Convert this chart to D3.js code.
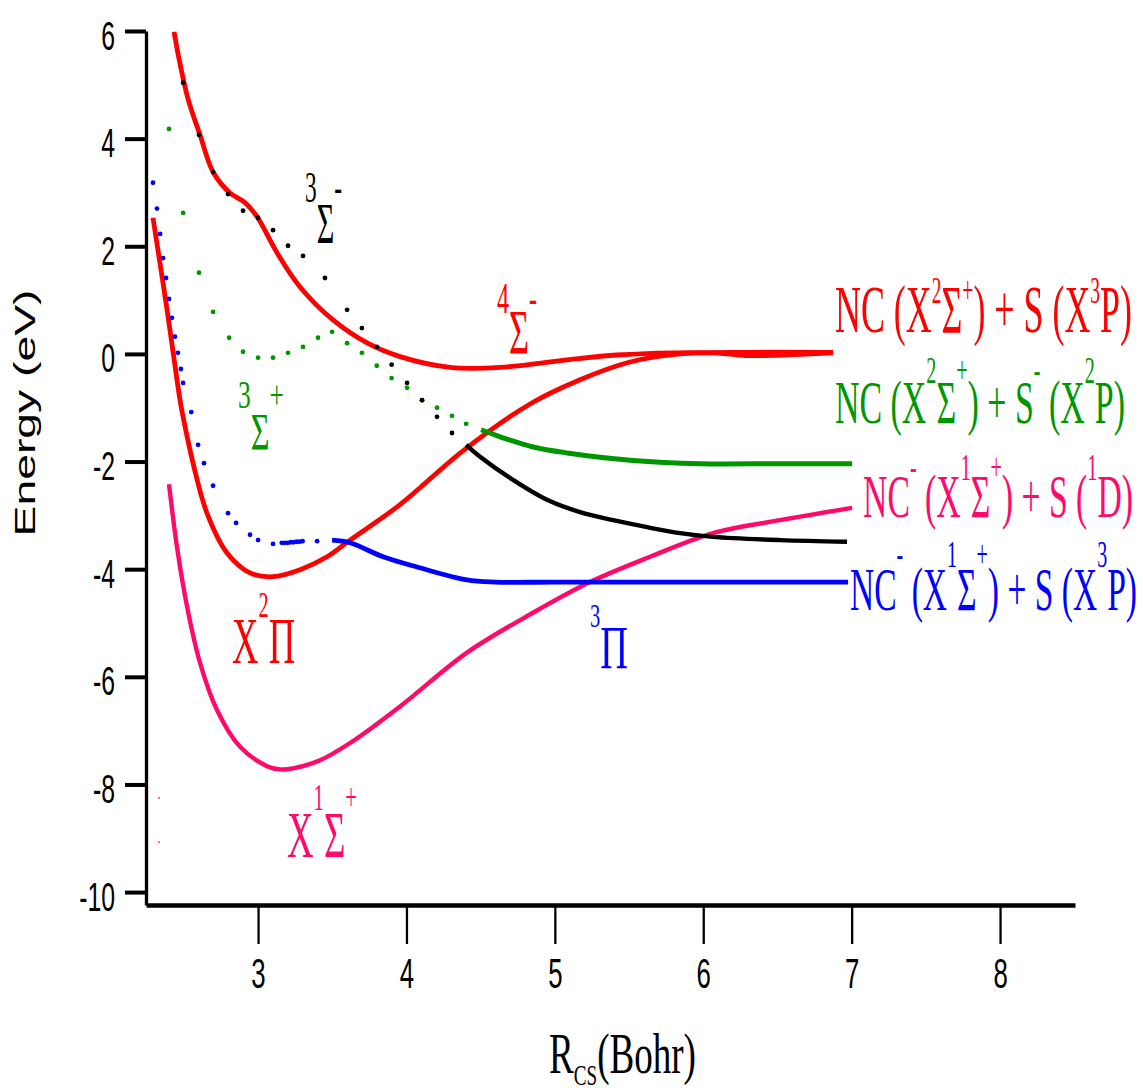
<!DOCTYPE html>
<html>
<head>
<meta charset="utf-8">
<script src="https://cdn.jsdelivr.net/npm/d3@7"></script>
<style>
  body { margin: 0; background: #fff; }
</style>
</head>
<body>
<div id="chart"></div>
<script>
// --- Data: [R (bohr), E (eV)] ---
const xTicks = [3, 4, 5, 6, 7, 8];
const yTicks = [-10, -8, -6, -4, -2, 0, 2, 4, 6];

const red4Sigma = [[2.434,5.985],[2.47,5.45],[2.53,4.72],[2.609,4.07],[2.697,3.38],[2.811,2.99],[2.912,2.81],[2.993,2.55],[3.128,1.88],[3.283,1.245],[3.505,0.632],[3.735,0.204],[3.957,-0.05],[4.294,-0.25],[4.631,-0.25],[5.082,-0.11],[5.419,-0.02],[6.066,0.02],[6.295,-0.03],[6.875,0.02]];
const redX2Pi = [[2.292,2.53],[2.387,0.82],[2.474,-0.855],[2.495,-1.17],[2.562,-2.03],[2.656,-2.96],[2.791,-3.70],[2.946,-4.07],[3.101,-4.14],[3.283,-4.01],[3.465,-3.77],[3.62,-3.46],[3.957,-2.80],[4.381,-1.80],[4.833,-0.93],[5.17,-0.48],[5.507,-0.15],[5.844,0.0],[6.3,0.03],[6.875,0.03]];
const pinkX1Sigma = [[2.40,-2.42],[2.454,-3.59],[2.522,-4.70],[2.609,-5.74],[2.724,-6.62],[2.879,-7.30],[3.061,-7.66],[3.15,-7.72],[3.236,-7.70],[3.418,-7.55],[3.62,-7.23],[3.957,-6.55],[4.408,-5.55],[4.853,-4.81],[5.237,-4.24],[5.642,-3.77],[6.066,-3.33],[6.517,-3.09],[7.003,-2.86]];
const pinkStray = [[2.333,-8.25],[2.333,-9.07]];
const blueDots = [[2.292,3.18],[2.319,2.70],[2.34,2.23],[2.36,1.78],[2.38,1.41],[2.40,1.02],[2.42,0.67],[2.44,0.32],[2.46,0.02],[2.48,-0.28],[2.495,-0.54],[2.55,-1.08],[2.596,-1.69],[2.636,-2.03],[2.697,-2.45],[2.798,-2.96],[2.852,-3.14],[2.946,-3.36],[3.0,-3.46],[3.101,-3.53],[3.16,-3.51],[3.18,-3.51],[3.20,-3.51],[3.22,-3.50],[3.24,-3.50],[3.26,-3.49],[3.28,-3.49],[3.30,-3.48],[3.398,-3.48]];
const blueLine = [[3.499,-3.46],[3.62,-3.51],[3.842,-3.77],[4.071,-3.96],[4.408,-4.20],[4.6,-4.24],[5.0,-4.24],[6.0,-4.24],[6.976,-4.24]];
const greenDots = [[2.40,4.18],[2.495,2.62],[2.602,1.51],[2.697,0.78],[2.805,0.30],[2.899,0.04],[3.0,-0.07],[3.101,-0.07],[3.202,0.02],[3.303,0.13],[3.404,0.30],[3.499,0.41],[3.60,0.20],[3.70,0.02],[3.80,-0.22],[3.90,-0.45],[4.004,-0.63],[4.105,-0.86],[4.206,-1.00],[4.307,-1.15],[4.402,-1.30]];
const greenLine = [[4.503,-1.41],[4.631,-1.54],[4.853,-1.73],[5.082,-1.84],[5.527,-1.98],[5.978,-2.04],[6.5,-2.04],[7.003,-2.04]];
const blackDots = [[2.495,5.04],[2.602,4.07],[2.697,3.38],[2.798,2.97],[2.899,2.66],[3.0,2.53],[3.101,2.30],[3.202,2.01],[3.303,1.82],[3.451,1.41],[3.60,0.82],[3.70,0.48],[3.80,0.13],[3.90,-0.20],[4.004,-0.54],[4.105,-0.86],[4.206,-1.17],[4.307,-1.47]];
const blackLine = [[4.402,-1.69],[4.496,-1.91],[4.718,-2.34],[4.947,-2.71],[5.17,-2.94],[5.392,-3.09],[5.621,-3.22],[5.844,-3.33],[6.066,-3.40],[6.517,-3.46],[6.969,-3.49]];

// --- Labels: parts are [text, "sup"|"sub"|undefined], anchored at (r, e) baseline ---
const stateLabels = [
  { parts: [["3","sup"],["Σ"],["-","sup"]], r: 3.317, e: 2.063, color: "#000", size: 57, sup: 44, rise: 41, width: 37 },
  { parts: [["4","sup"],["Σ"],["-","sup"]], r: 4.611, e: 0.0, color: "#ff0000", size: 63, sup: 44, rise: 41, width: 40 },
  { parts: [["3","sup"],["Σ"],["+","sup"]], r: 2.865, e: -1.784, color: "#009600", size: 52, sup: 41, rise: 42, width: 46 },
  { parts: [["X"],["2","sup"],["Π"]], r: 2.825, e: -5.743, color: "#ff0000", size: 65, sup: 36, rise: 46, width: 63 },
  { parts: [["X"],["1","sup"],["Σ"],["+","sup"]], r: 3.195, e: -9.35, color: "#ff0a6a", size: 66, sup: 37, rise: 47, width: 70 },
  { parts: [["3","sup"],["Π"]], r: 5.237, e: -5.836, color: "#0000ff", size: 62, sup: 33, rise: 41, width: 38 }
];
const limitLabels = [
  { parts: [["NC (X"],["2","sup"],["Σ"],["+","sup"],[") + S (X"],["3","sup"],["P)"]], r: 6.888, e: 0.41, color: "#ff0000", size: 68, sup: 37, rise: 29, width: 297 },
  { parts: [["NC (X"],["2","sup"],["Σ"],["+","sup"],[") + S"],["-","sup"],[" (X"],["2","sup"],["P)"]], r: 6.888, e: -1.28, color: "#009600", size: 62, sup: 37, rise: 40, width: 290 },
  { parts: [["NC"],["-","sup"],[" (X"],["1","sup"],["Σ"],["+","sup"],[") + S ("],["1","sup"],["D)"]], r: 7.077, e: -3.03, color: "#ff0a6a", size: 62, sup: 37, rise: 37, width: 270 },
  { parts: [["NC"],["-","sup"],[" (X"],["1","sup"],["Σ"],["+","sup"],[") + S (X"],["3","sup"],["P)"]], r: 6.989, e: -4.76, color: "#0000ff", size: 62, sup: 37, rise: 43, width: 287 }
];

// --- Chart ---
const width = 1143, height = 1092;
const svg = d3.select("#chart").append("svg")
  .attr("width", width)
  .attr("height", height);

const x = d3.scaleLinear().domain([2.245, 8.505]).range([146, 1075]);
const y = d3.scaleLinear().domain([-10.24, 6]).range([905, 31]);

const serif = "'Liberation Serif', 'Times New Roman', 'DejaVu Serif', serif";
const sans = "'Liberation Sans', Arial, sans-serif";

// axes
const yAxis = svg.append("g")
  .attr("transform", `translate(${x.range()[0]},0)`)
  .call(d3.axisLeft(y).tickValues(yTicks).tickSize(21).tickSizeOuter(0).tickFormat(d => String(d)));
yAxis.select(".domain").attr("stroke", "#000").attr("stroke-width", 3.3);
yAxis.selectAll(".tick line").attr("stroke", "#000").attr("stroke-width", 4);
yAxis.selectAll(".tick text")
  .attr("x", null).attr("dy", null)
  .attr("transform", "translate(-31,18) scale(0.62,1)")
  .attr("text-anchor", "end")
  .attr("fill", "#000")
  .style("font-family", sans)
  .style("font-size", "40px");

const xAxis = svg.append("g")
  .attr("transform", `translate(0,${y.range()[0]})`)
  .call(d3.axisBottom(x).tickValues(xTicks).tickSize(39).tickSizeOuter(0).tickFormat(d => String(d)));
xAxis.select(".domain").attr("stroke", "#000").attr("stroke-width", 4.7);
xAxis.selectAll(".tick line").attr("stroke", "#000").attr("stroke-width", 2.3);
xAxis.selectAll(".tick text")
  .attr("y", null).attr("dy", null)
  .attr("transform", "translate(0,83) scale(0.6,1)")
  .attr("text-anchor", "middle")
  .attr("fill", "#000")
  .style("font-family", sans)
  .style("font-size", "43px");

// y-axis title, stretched along its length like the original
const yTitle = svg.append("g");
const yTitleText = yTitle.append("text")
  .attr("text-anchor", "middle")
  .style("font-family", sans)
  .style("font-size", "29px")
  .text("Energy (eV)");
const yLen = yTitleText.node().getBBox().width;
yTitle.attr("transform", `translate(35,413) rotate(-90) scale(${247 / yLen},1)`);

// curves
const line = d3.line()
  .x(d => x(d[0]))
  .y(d => y(d[1]))
  .curve(d3.curveCatmullRom.alpha(0.5));

const solids = [
  { data: red4Sigma, color: "#ff0000", w: 4.8 },
  { data: redX2Pi, color: "#ff0000", w: 4.8 },
  { data: pinkX1Sigma, color: "#ff0a6a", w: 4.4 },
  { data: blueLine, color: "#0000ff", w: 4.8 },
  { data: blackLine, color: "#000000", w: 4.4 },
  { data: greenLine, color: "#009600", w: 5 }
];
svg.append("g").selectAll("path")
  .data(solids)
  .enter()
  .append("path")
  .attr("d", d => line(d.data))
  .attr("fill", "none")
  .attr("stroke", d => d.color)
  .attr("stroke-width", d => d.w);

const dotted = [
  { data: blueDots, color: "#0000ff", r: 2.4 },
  { data: greenDots, color: "#009600", r: 2.4 },
  { data: blackDots, color: "#000000", r: 2.4 },
  { data: pinkStray, color: "#ff0a6a", r: 0.9 }
];
dotted.forEach(s => {
  svg.append("g").selectAll("circle")
    .data(s.data)
    .enter()
    .append("circle")
    .attr("cx", d => x(d[0]))
    .attr("cy", d => y(d[1]))
    .attr("r", s.r)
    .attr("fill", s.color);
});

// rich text with superscripts, squeezed to the target width
function richText(o) {
  const g = svg.append("g");
  const t = g.append("text")
    .attr("fill", o.color)
    .style("font-family", serif)
    .style("font-size", o.size + "px")
    .style("white-space", "pre");
  let shift = 0;
  o.parts.forEach(([s, kind]) => {
    const sp = t.append("tspan").text(s);
    let target = 0;
    if (kind === "sup") { sp.style("font-size", o.sup + "px"); target = -o.rise; }
    if (kind === "sub") { sp.style("font-size", o.sup + "px"); target = o.rise; }
    if (target !== shift) { sp.attr("dy", target - shift); shift = target; }
  });
  const w = t.node().getBBox().width;
  const px = o.px != null ? o.px : x(o.r);
  const py = o.py != null ? o.py : y(o.e);
  g.attr("transform", `translate(${px},${py}) scale(${o.width / w},1)`);
}

stateLabels.forEach(richText);
limitLabels.forEach(richText);

// x-axis title R_CS(Bohr)
richText({ parts: [["R"],["CS","sub"],["(Bohr)"]], px: 549, py: 1073, color: "#000", size: 58, sup: 30, rise: 12, width: 147 });
</script>
</body>
</html>
